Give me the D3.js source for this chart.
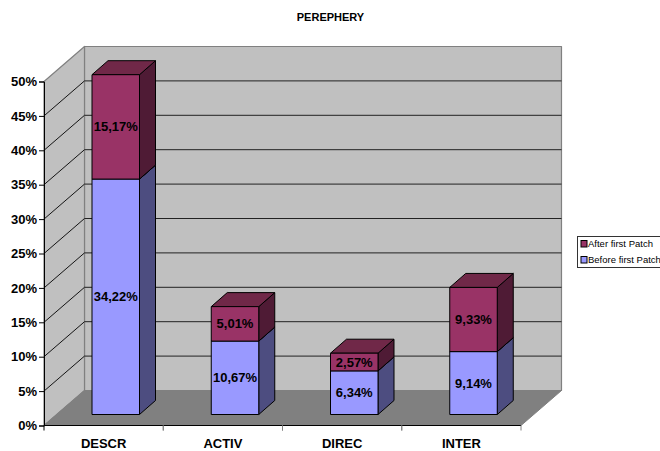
<!DOCTYPE html>
<html><head><meta charset="utf-8">
<script src="https://cdn.jsdelivr.net/npm/d3@7"></script>
<style>html,body{margin:0;padding:0;background:#fff;overflow:hidden}svg{display:block;font-family:"Liberation Sans",Arial,sans-serif}</style>
</head><body><svg id="c" width="660" height="451"></svg>
<script>
const categories = ["DESCR","ACTIV","DIREC","INTER"];
const before = [34.22,10.67,6.34,9.14];
const after = [15.17,5.01,2.57,9.33];
const beforeLabels = ["34,22%","10,67%","6,34%","9,14%"];
const afterLabels = ["15,17%","5,01%","2,57%","9,33%"];
const yTicks = [0,5,10,15,20,25,30,35,40,45,50];
const seriesNames = ["After first Patch","Before first Patch"];
const title = "PEREPHERY";

const svg = d3.select("#c");
const y = d3.scaleLinear().domain([0,50]).range([425.5,81.5]);
const x = d3.scaleBand().domain(categories).range([44,521]);
const wall = {dx:40.5, dy:-35};
const barOff = {dx:12, dy:-11, depthX:16, depthY:-14, inset:36, w:47.5};
const poly = (pts,fill,stroke="#000",sw=1)=>svg.append("polygon").attr("points",pts.map(p=>p.join(",")).join(" ")).attr("fill",fill).attr("stroke",stroke).attr("stroke-width",sw).attr("stroke-linejoin","round");
const [x0,x1]=x.range(), y0=y(0), yT=y(50);

// walls and floor
poly([[x0+wall.dx,yT+wall.dy],[x1+wall.dx,yT+wall.dy],[x1+wall.dx,y0+wall.dy],[x0+wall.dx,y0+wall.dy]],"#c0c0c0","#808080",1.2);
poly([[x0,yT],[x0+wall.dx,yT+wall.dy],[x0+wall.dx,y0+wall.dy],[x0,y0]],"#c0c0c0","#808080",1.2);
poly([[x0,y0],[x1,y0],[x1+wall.dx,y0+wall.dy],[x0+wall.dx,y0+wall.dy]],"#808080","#808080",1);

// gridlines
yTicks.slice(1).forEach(t=>{
  const yy=y(t);
  if(t<50) svg.append("path").attr("d",`M${x0},${yy}L${x0+wall.dx},${yy+wall.dy}`).attr("stroke","#000").attr("fill","none").attr("stroke-width",0.9);
  if(t<50) svg.append("line").attr("x1",x0+wall.dx).attr("x2",x1+wall.dx).attr("y1",yy+wall.dy).attr("y2",yy+wall.dy).attr("stroke","#222").attr("stroke-width",1);
});

// bars
const box=(xf,v0,v1,front,topc,side)=>{
  const a=y(v1)+barOff.dy, b=y(v0)+barOff.dy, l=xf, r=xf+barOff.w, dx=barOff.depthX, dy=barOff.depthY;
  poly([[r,b],[r+dx,b+dy],[r+dx,a+dy],[r,a]],side);
  poly([[l,a],[l+dx,a+dy],[r+dx,a+dy],[r,a]],topc);
  poly([[l,b],[r,b],[r,a],[l,a]],front);
  return {cx:(l+r)/2, cy:(a+b)/2};
};
categories.forEach((c,i)=>{
  const xf=x(c)+barOff.dx+barOff.inset;
  const p1=box(xf,0,before[i],"#9999ff","#7a7acc","#4d4d80");
  const p2=box(xf,before[i],before[i]+after[i],"#993366","#702848","#4f1b35");
  [[p1,beforeLabels[i]],[p2,afterLabels[i]]].forEach(([p,t])=>
    svg.append("text").attr("x",p.cx).attr("y",p.cy).attr("dy","0.35em").attr("text-anchor","middle")
      .attr("font-size",13).attr("font-weight","bold").attr("fill","#000").text(t));
});

// axes
const ya=d3.axisLeft(y).tickValues(yTicks).tickFormat(d=>d+"%").tickSize(5).tickPadding(2);
const gy=svg.append("g").attr("transform",`translate(${x0},0)`).call(ya);
gy.selectAll("text").attr("font-size",13).attr("font-weight","bold").attr("fill","#000").attr("font-family","inherit");
gy.selectAll("line,path").attr("stroke","#000");
const xa=d3.axisBottom(x).tickSize(0).tickPadding(13);
const gx=svg.append("g").attr("transform",`translate(0,${y0})`).call(xa);
gx.selectAll("text").attr("font-size",13).attr("font-weight","bold").attr("fill","#000").attr("font-family","inherit");
gx.select("path").attr("stroke","#000").attr("d",`M${x0},0H${x1}`);
categories.forEach(c=>{
  [x(c),x(c)+x.bandwidth()].forEach(t=>gx.append("line").attr("x1",t).attr("x2",t).attr("y1",0).attr("y2",5).attr("stroke",t===x0?"#000":"#808080"));
});

// title
svg.append("text").attr("x",330.5).attr("y",21).attr("text-anchor","middle").attr("font-size",11).attr("font-weight","bold").text(title);

// legend
svg.append("rect").attr("x",577.5).attr("y",236.5).attr("width",100).attr("height",31).attr("fill","#fff").attr("stroke","#333").attr("stroke-width",1);
const legColors=["#993366","#9999ff"];
seriesNames.forEach((n,i)=>{
  const yy=240.5+i*16;
  svg.append("rect").attr("x",581).attr("y",yy).attr("width",6).attr("height",6.5).attr("fill",legColors[i]).attr("stroke","#000");
  svg.append("text").attr("x",588).attr("y",yy+6.5).attr("font-size",9.5).attr("fill","#000").text(n);
});
</script></body></html>
